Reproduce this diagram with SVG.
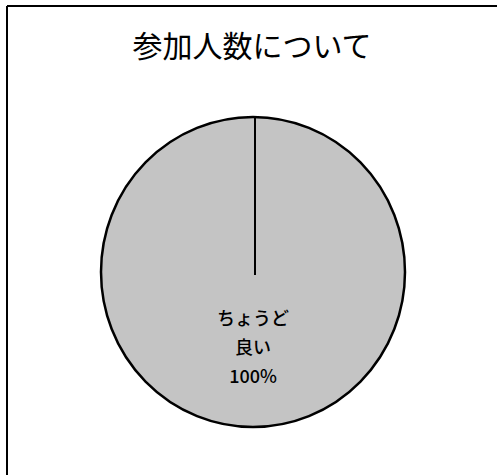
<svg xmlns="http://www.w3.org/2000/svg" width="497" height="475" viewBox="0 0 497 475">
<style>
.t{font-family:"Noto Sans CJK JP","Liberation Sans",sans-serif;fill:#000;text-anchor:middle}
.lbl{font-size:18px;font-weight:500}
</style>
<rect x="0" y="0" width="497" height="475" fill="#fff"/>
<g id="frame">
<line x1="7" y1="6" x2="497" y2="6" stroke="#000" stroke-width="2"/>
<line x1="7" y1="6" x2="7" y2="475" stroke="#000" stroke-width="2"/>
</g>
<g id="title">
<text class="t" x="252" y="57" font-size="30">参加人数について</text>
</g>
<g id="pie">
<ellipse cx="253" cy="272" rx="152" ry="155" fill="#c4c4c4" stroke="#000" stroke-width="2.5"/>
</g>
<g id="connectors">
<line x1="255" y1="117" x2="255" y2="275" stroke="#000" stroke-width="2"/>
</g>
<g id="label">
<text class="t lbl" x="253" y="325">ちょうど</text>
<text class="t lbl" x="253" y="354">良い</text>
<text class="t lbl" x="253" y="383" font-family="Liberation Sans">100%</text>
</g>
</svg>
